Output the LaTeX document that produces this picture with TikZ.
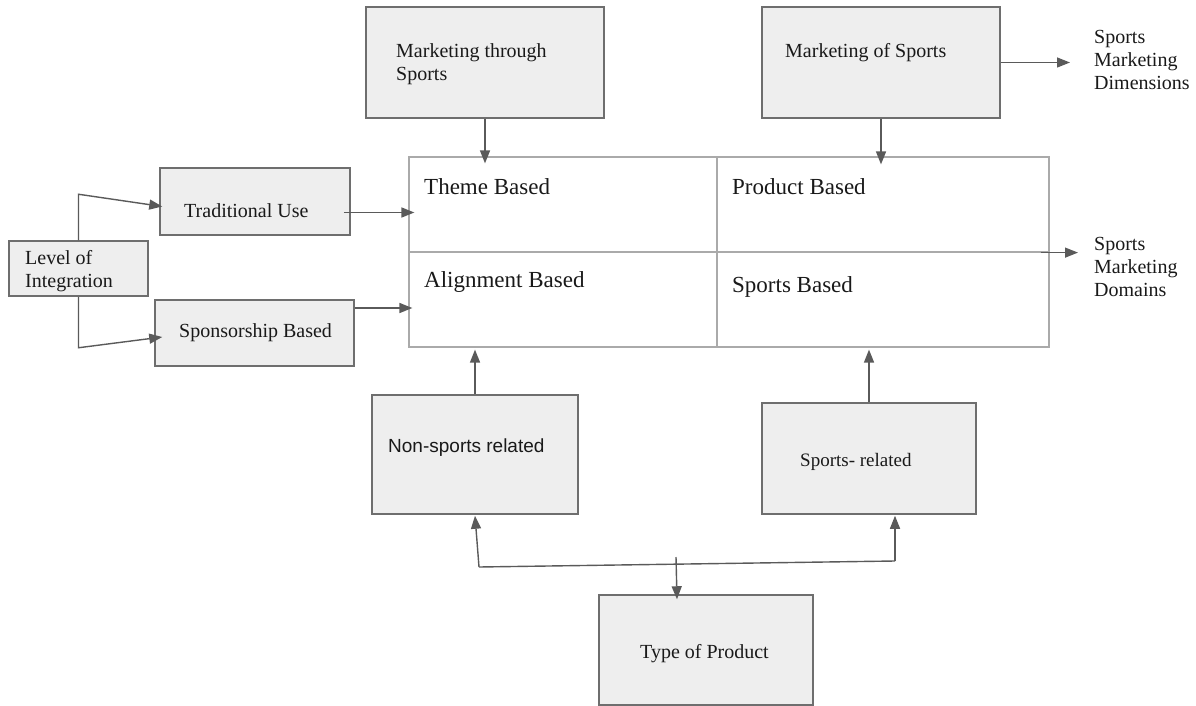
\documentclass[tikz,border=0pt]{standalone}
\usepackage{fontspec}
\setmainfont{Liberation Serif}
\newfontfamily\arialfont{Liberation Sans}
\usetikzlibrary{arrows.meta}

\begin{document}
\begin{tikzpicture}[x=1pt, y=-1pt,
  box/.style={rectangle, draw=boxBorder, fill=boxGray, line width=1.5pt},
  cell/.style={rectangle, draw=cellGray, line width=1.2pt, minimum height=95pt},
  txt/.style={anchor=west, inner sep=0pt, align=left, text=black!90, font=\fontsize{20}{23}\selectfont},
  bigtxt/.style={txt, font=\fontsize{23}{27}\selectfont},
  conn/.style={draw=arrowGray, line width=1.4pt},
  arr/.style={conn, -{Triangle[length=13pt, width=10pt]}}]
  \definecolor{boxGray}{RGB}{238,238,238}
  \definecolor{boxBorder}{RGB}{110,110,110}
  \definecolor{cellGray}{RGB}{170,170,170}
  \definecolor{arrowGray}{RGB}{90,90,90}

  \useasboundingbox (0,0) rectangle (1196,706);

  % dimensions
  \node[box, minimum width=238pt, minimum height=111pt] (mts) at (485,62.5) {};
  \node[box, minimum width=238pt, minimum height=111pt] (mos) at (881,62.5) {};
  \node[txt] (tMts) at (396,64) {Marketing through\\Sports};
  \node[txt] (tMos) at (785,53) {Marketing of Sports};
  \node[txt] (tDims) at (1094,60) {Sports\\Marketing\\Dimensions};

  % domains grid
  \node[cell, minimum width=308pt] (theme)   at (563,204.5) {};
  \node[cell, minimum width=332pt] (product) at (883,204.5) {};
  \node[cell, minimum width=308pt] (align)   at (563,299.5) {};
  \node[cell, minimum width=332pt] (sportsb) at (883,299.5) {};
  \node[bigtxt] (tTheme)   at (424,187) {Theme Based};
  \node[bigtxt] (tProduct) at (732,187) {Product Based};
  \node[bigtxt] (tAlign)   at (424,282) {Alignment Based};
  \node[bigtxt] (tSportsb) at (732,287) {Sports Based};
  \node[txt] (tDoms) at (1094,267) {Sports\\Marketing\\Domains};

  % level of integration
  \node[box, minimum width=190pt, minimum height=67pt] (trad)  at (255,201.5) {};
  \node[box, minimum width=199pt, minimum height=66pt] (spons) at (254.5,333) {};
  \node[box, minimum width=139pt, minimum height=55pt] (loi)   at (78.5,268.5) {};
  \node[txt] (tTrad)  at (184,211) {Traditional Use};
  \node[txt] (tSpons) at (179,333) {Sponsorship Based};
  \node[txt] (tLoi)   at (25,271) {Level of\\Integration};

  % type of product
  \node[box, minimum width=206pt, minimum height=119pt] (nonsp) at (475,454.5) {};
  \node[box, minimum width=214pt, minimum height=111pt] (sprel) at (869,458.5) {};
  \node[box, minimum width=214pt, minimum height=110pt] (typ)   at (706,650) {};
  \node[txt, font=\arialfont\fontsize{19}{23}\selectfont] (tNonsp) at (388,448) {Non-sports related};
  \node[txt, font=\fontsize{19}{23}\selectfont] (tSprel) at (800,462) {Sports- related};
  \node[txt] (tTyp) at (640,654) {Type of Product};

  \coordinate (forkL) at (479,567);
  \coordinate (forkR) at (895,561);
  \coordinate (forkT) at (676,557);

  \draw[arr] (mts.south) -- ([yshift=-7pt]mts.south |- theme.north);
  \draw[arr] (mos.south) -- ([yshift=-8pt]mos.south |- product.north);
  \draw[arr] (mos.east) -- ([xshift=-24pt]mos.east -| tDims.west);
  \draw[arr] ([xshift=-9pt]product.south east) -- ([xshift=-16pt]product.south east -| tDoms.west);
  \draw[arr] ([shift={(-7pt,-11pt)}]trad.east) -- ([shift={(6pt,-11pt)}]trad.east -| theme.west);
  \draw[arr] ([yshift=25pt]spons.east) -- ([shift={(4pt,25pt)}]spons.east -| align.west);
  \draw[arr] (loi.north) -- ++(0,-46) -- ([shift={(3pt,-5pt)}]trad.west);
  \draw[arr] (loi.south) -- ++(0,51) -- ([shift={(8pt,-4pt)}]spons.west);
  \draw[arr] (nonsp.north) -- ([yshift=-2pt]nonsp.north |- align.south);
  \draw[arr] (sprel.north) -- ([yshift=-2pt]sprel.north |- sportsb.south);

  \draw[conn] (forkL) -- (forkR);
  \draw[arr] (forkL) -- ([yshift=-1pt]nonsp.south);
  \draw[arr] (forkR) -- ([shift={(26pt,-1pt)}]sprel.south);
  \draw[arr] (forkT) -- ([shift={(-29pt,-5pt)}]typ.north);
\end{tikzpicture}
\end{document}
